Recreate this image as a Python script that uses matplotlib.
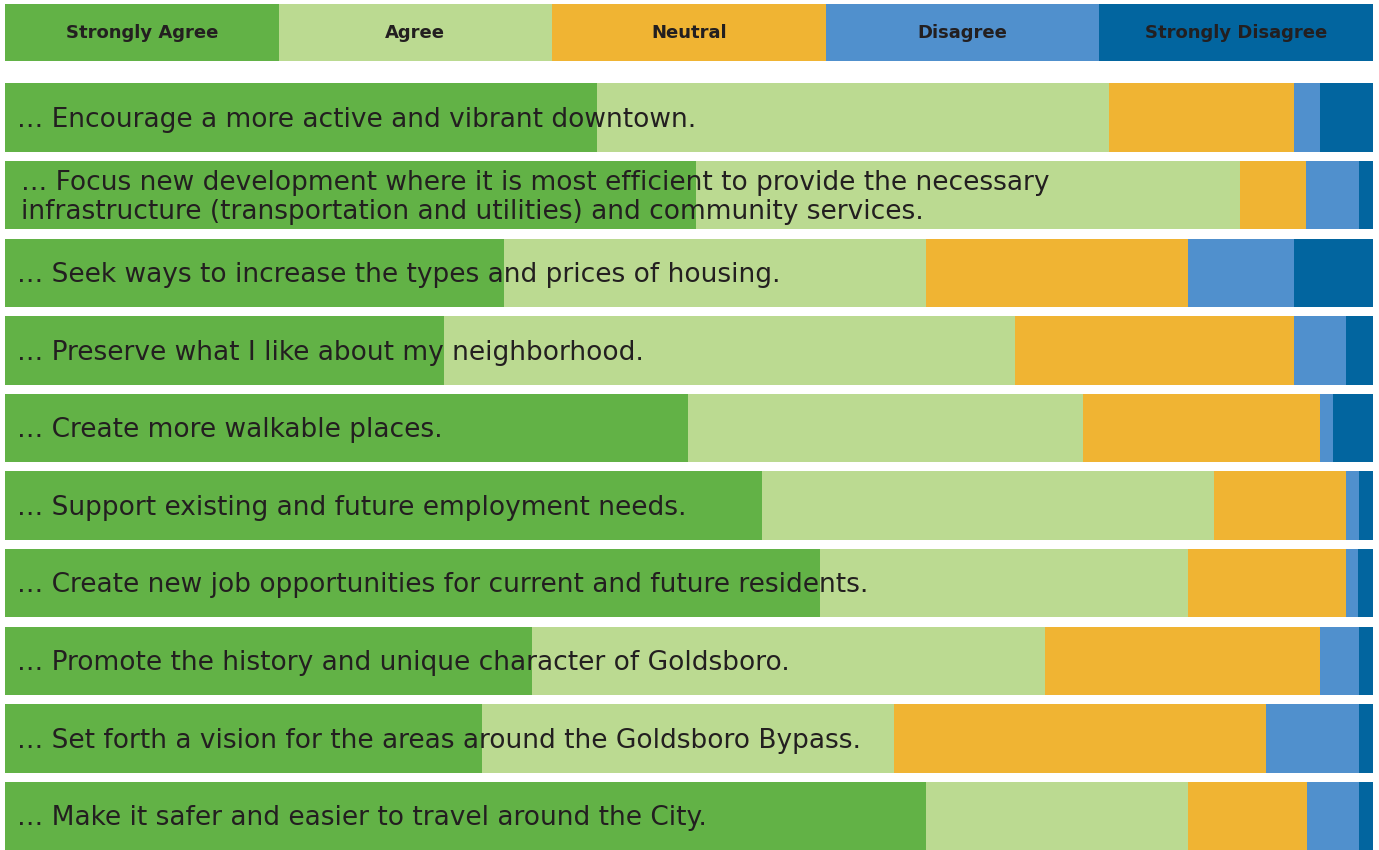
import matplotlib.pyplot as plt
import numpy as np

# Response categories and colours
categories = ['Strongly Agree', 'Agree', 'Neutral', 'Disagree', 'Strongly Disagree']
colors = ['#62B246', '#BBDA91', '#F0B433', '#5090CD', '#02659F']

# Statements (top to bottom)
statements = [
    '… Encourage a more active and vibrant downtown.',
    '… Focus new development where it is most efficient to provide the necessary\n'
    'infrastructure (transportation and utilities) and community services.',
    '… Seek ways to increase the types and prices of housing.',
    '… Preserve what I like about my neighborhood.',
    '… Create more walkable places.',
    '… Support existing and future employment needs.',
    '… Create new job opportunities for current and future residents.',
    '… Promote the history and unique character of Goldsboro.',
    '… Set forth a vision for the areas around the Goldsboro Bypass.',
    '… Make it safer and easier to travel around the City.',
]

# Share of responses (%)
strongly_agree = [43.3, 50.5, 36.5, 32.1, 49.9, 55.3, 59.6, 38.5, 34.9, 67.3]
agree = [37.4, 39.8, 30.8, 41.7, 28.9, 33.1, 26.9, 37.5, 30.1, 19.2]
neutral = [13.5, 4.8, 19.2, 20.4, 17.3, 9.6, 11.5, 20.1, 27.2, 8.7]
disagree = [1.9, 3.9, 7.7, 3.8, 1.0, 1.0, 0.9, 2.9, 6.8, 3.8]
strongly_disagree = [3.9, 1.0, 5.8, 2.0, 2.9, 1.0, 1.1, 1.0, 1.0, 1.0]

series = [strongly_agree, agree, neutral, disagree, strongly_disagree]

W, H = 1379, 850
fig = plt.figure(figsize=(W / 100, H / 100), dpi=100)
fig.patch.set_facecolor('white')

x0, x1 = 5, 1373

# Header legend strip
hax = fig.add_axes([x0 / W, 1 - 61 / H, (x1 - x0) / W, 57 / H])
hax.barh(0, [20] * 5, left=np.arange(5) * 20, height=1, color=colors)
for i, cat in enumerate(categories):
    hax.text(i * 20 + 10, 0, cat, ha='center', va='center',
             fontsize=13, fontweight='bold', color='#231F20')
hax.set_xlim(0, 100)
hax.set_ylim(-0.5, 0.5)
hax.axis('off')

# Main stacked bars
top, period, bar_h = 83.3, 77.6, 68.4
n = len(statements)
h = bar_h / period
y_top_px = top - (period - bar_h) / 2
y_bot_px = y_top_px + n * period
ax = fig.add_axes([x0 / W, 1 - y_bot_px / H, (x1 - x0) / W, (y_bot_px - y_top_px) / H])

y = np.arange(n)
left = np.zeros(n)
for vals, col in zip(series, colors):
    ax.barh(y, vals, left=left, height=h, color=col, linewidth=0)
    left += np.array(vals)

for i, label in enumerate(statements):
    tx = 1.2 if '\n' in label else 0.9
    ax.text(tx, i + 0.03, label, ha='left', va='center', fontsize=19,
            color='#231F20', linespacing=1.12)

ax.set_xlim(0, 100)
ax.set_ylim(n - 0.5, -0.5)
ax.axis('off')

fig.savefig('out.png', dpi=100)
